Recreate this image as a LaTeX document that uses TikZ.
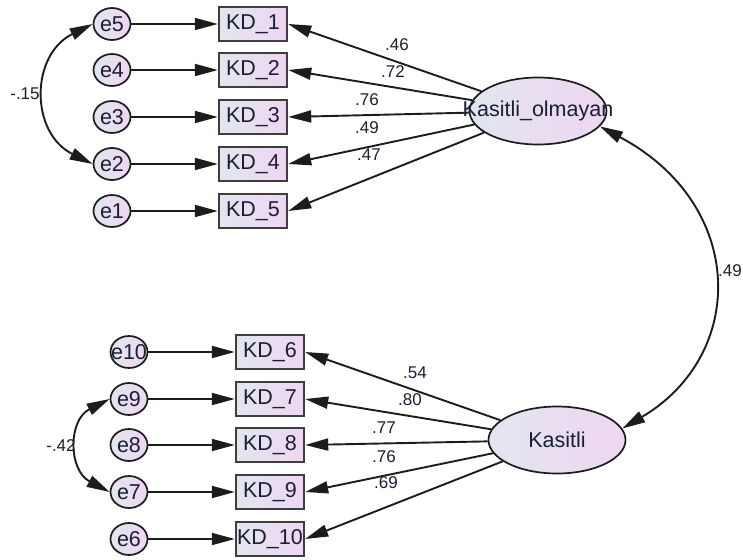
\documentclass[tikz,border=0pt]{standalone}
\usepackage{fontspec}
\setmainfont{Liberation Sans}
\usetikzlibrary{arrows.meta,shapes.geometric}
\definecolor{gL}{HTML}{E2E6EE}
\definecolor{gR}{HTML}{EED6F2}
\definecolor{ink}{HTML}{1C1C1C}
\definecolor{txt}{HTML}{1A1F33}
\begin{document}
\begin{tikzpicture}[x=1pt,y=-1pt,
  obsbox/.style={rectangle, draw=ink!85, line width=2.4pt, left color=gL, right color=gR,
    minimum width=68pt, minimum height=34pt, inner sep=0pt, text=txt,
    font=\fontsize{21.5}{24}\selectfont},
  errc/.style={ellipse, draw=ink, line width=1.7pt, left color=gL, right color=gR,
    minimum width=37pt, minimum height=32pt, inner sep=0pt, text=txt,
    font=\fontsize{21.5}{24}\selectfont},
  latent/.style={ellipse, draw=ink, line width=1.7pt, left color=gL, right color=gR,
    minimum width=137pt, minimum height=67pt, inner sep=0pt, text=txt,
    font=\fontsize{21.5}{24}\selectfont},
  tip/.tip={Triangle[length=23pt,width=12pt]},
  pathline/.style={-tip, line width=1.9pt, draw=ink},
  covline/.style={tip-tip, line width=1.9pt, draw=ink},
  lbl/.style={inner sep=0pt, text=txt, font=\fontsize{17}{19}\selectfont}]
\useasboundingbox (0,0) rectangle (743,559);

% upper group
\foreach \i/\y in {5/24,4/70,3/117,2/164,1/211}{
  \node[errc] (e\i) at (112,\y) {\makebox[0pt]{e\i}};
}
\foreach \i/\y in {1/24,2/70,3/117,4/164,5/211}{
  \node[obsbox] (KD\i) at (253,\y) {KD\_\i};
}
\foreach \a/\b in {5/1,4/2,3/3,2/4,1/5}{
  \draw[pathline] (e\a) -- (KD\b);
}
\node[latent] (Kol) at (538,111) {\makebox[0pt]{Kasitli\_olmayan}};
\foreach \b in {1,...,5}{
  \draw[pathline] (Kol) -- (KD\b.east);
}
\node[lbl] (l1) at (397,45) {.46};
\node[lbl] (l2) at (393,72) {.72};
\node[lbl] (l3) at (367,100) {.76};
\node[lbl] (l4) at (367,128) {.49};
\node[lbl] (l5) at (369,155) {.47};
\draw[covline] (e5.west) .. controls (30,55) and (30,133) .. (e2.west);
\node[lbl] (c1) at (25,94) {-.15};

% lower group
\foreach \i/\y in {10/352,9/399,8/445,7/492,6/539}{
  \node[errc] (e\i) at (129,\y) {\makebox[0pt]{e\i}};
}
\foreach \i/\y in {6/352,7/399,8/445,9/492,10/539}{
  \node[obsbox] (KD\i) at (270,\y) {KD\_\i};
}
\foreach \a/\b in {10/6,9/7,8/8,7/9,6/10}{
  \draw[pathline] (e\a) -- (KD\b);
}
\node[latent] (Kas) at (557,440) {\makebox[0pt]{Kasitli}};
\foreach \b in {6,...,10}{
  \draw[pathline] (Kas) -- (KD\b.east);
}
\node[lbl] (l6) at (415,373) {.54};
\node[lbl] (l7) at (410,400) {.80};
\node[lbl] (l8) at (384,428) {.77};
\node[lbl] (l9) at (384,457) {.76};
\node[lbl] (l10) at (386,483) {.69};
\draw[covline] (e9.west) .. controls (68,420) and (68,470) .. (e7.west);
\node[lbl] (c2) at (61,446) {-.42};

% latent covariance
\draw[covline] (Kol.-14) .. controls (747,205) and (747,355) .. (Kas.10);
\node[lbl, anchor=east] (c3) at (742,271) {.49};
\end{tikzpicture}
\end{document}
